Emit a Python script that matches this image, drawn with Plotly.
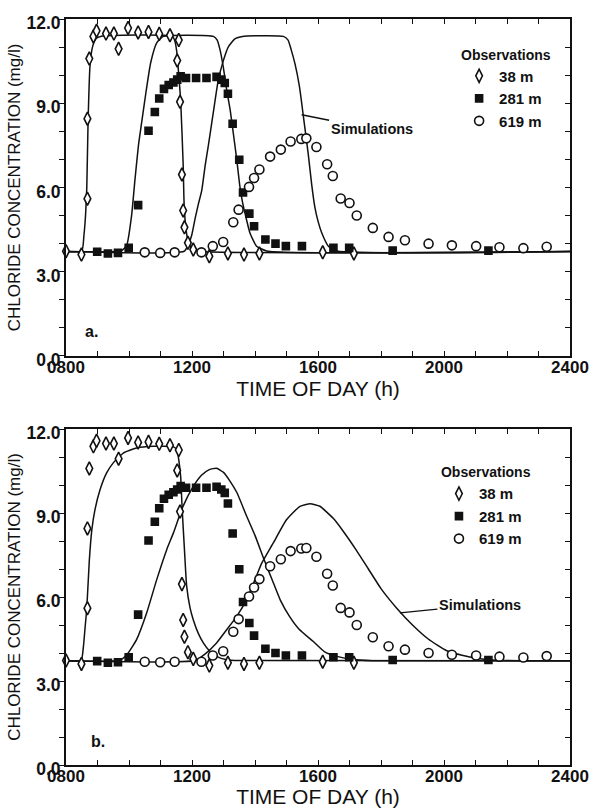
import plotly.graph_objects as go

# ---------------- data ----------------
# observation times (decimal hours) and chloride concentrations (mg/l)
obs38_t = [8.00, 8.49, 8.68, 8.68, 8.74, 8.87, 8.97, 9.27, 9.52, 9.67, 9.97, 10.29, 10.62, 10.96,
           11.30, 11.53, 11.58, 11.62, 11.68, 11.72, 11.76, 11.87, 12.04, 12.55, 13.14, 13.65,
           14.14, 16.15, 17.14]
obs38_c = [3.73, 3.61, 5.60, 8.45, 10.59, 11.38, 11.58, 11.48, 11.48, 10.94, 11.68, 11.52, 11.54,
           11.47, 11.42, 10.52, 11.25, 9.05, 6.46, 5.18, 4.58, 4.03, 3.79, 3.55, 3.65, 3.61,
           3.65, 3.69, 3.65]

obs281_t = [8.99, 9.33, 9.65, 9.99, 10.29, 10.62, 10.82, 10.96, 11.11, 11.26, 11.41, 11.53, 11.64,
            11.81, 12.13, 12.46, 12.78, 12.93, 13.04, 13.14, 13.29, 13.50, 13.62, 13.82, 13.97,
            14.33, 14.65, 14.98, 15.49, 16.49, 16.99, 18.37, 21.41]
obs281_c = [3.71, 3.65, 3.67, 3.85, 5.37, 8.02, 8.69, 9.17, 9.51, 9.65, 9.74, 9.84, 9.96,
            9.90, 9.90, 9.90, 9.94, 9.84, 9.72, 9.34, 8.27, 6.99, 5.82, 5.07, 4.62,
            4.15, 4.00, 3.91, 3.91, 3.85, 3.85, 3.75, 3.75]

obs619_t = [10.50, 10.99, 11.45, 12.30, 12.66, 12.99, 13.31, 13.48, 13.81, 13.97, 14.14, 14.48,
            14.82, 15.13, 15.47, 15.63, 15.95, 16.29, 16.47, 16.72, 17.00, 17.23, 17.74, 18.24,
            18.76, 19.51, 20.25, 21.02, 21.76, 22.52, 23.26]
obs619_c = [3.69, 3.67, 3.69, 3.69, 3.91, 4.06, 4.76, 5.21, 6.02, 6.34, 6.64, 7.10,
            7.35, 7.64, 7.73, 7.75, 7.44, 6.83, 6.41, 5.61, 5.45, 5.00, 4.56, 4.24,
            4.12, 4.00, 3.94, 3.91, 3.87, 3.84, 3.89]

# simulations, panel a
sima38_t = [8.0, 8.50, 8.57, 8.62, 8.66, 8.70, 8.76, 8.84, 8.95, 9.10, 11.38, 11.46, 11.52, 11.58,
            11.64, 11.72, 11.75, 11.81, 11.90, 12.00, 12.20, 24.0]
sima38_c = [3.72, 3.74, 4.30, 5.00, 6.00, 8.30, 10.30, 11.00, 11.30, 11.38, 11.38, 11.20, 10.80,
            10.00, 9.10, 6.80, 5.40, 4.50, 4.00, 3.82, 3.73, 3.72]

sima281_t = [8.0, 9.70, 9.80, 9.93, 10.08, 10.19, 10.30, 10.40, 10.54, 10.69, 10.88, 11.09, 12.68,
             12.80, 12.89, 12.99, 13.10, 13.21, 13.31, 13.42, 13.52, 13.60, 13.70, 13.84, 14.05,
             14.37, 24.0]
sima281_c = [3.72, 3.73, 3.78, 3.95, 4.98, 6.28, 7.50, 8.30, 9.40, 10.45, 11.15, 11.38, 11.38,
             11.25, 10.90, 10.31, 9.48, 8.77, 7.94, 7.00, 6.04, 5.50, 5.00, 4.38, 3.91,
             3.74, 3.72]

sima619_t = [8.0, 11.75, 11.88, 11.99, 12.10, 12.20, 12.31, 12.42, 12.52, 12.68, 12.83, 12.99,
             13.15, 13.37, 13.60, 14.90, 15.05, 15.15, 15.27, 15.41, 15.54, 15.69, 15.80, 15.90,
             16.00, 16.12, 16.33, 16.60, 24.0]
sima619_c = [3.72, 3.73, 3.95, 4.30, 4.90, 5.40, 5.90, 6.80, 7.50, 8.70, 9.80, 10.50,
             11.00, 11.30, 11.38, 11.38, 11.25, 10.90, 10.40, 9.60, 8.50, 7.20, 6.10, 5.30,
             4.80, 4.38, 3.91, 3.74, 3.72]

# simulations, panel b
simb38_t = [8.0, 8.48, 8.55, 8.60, 8.66, 8.74, 8.82, 8.92, 9.08, 9.29, 9.50, 9.82, 10.24, 10.77,
            11.41, 11.52, 11.58, 11.64, 11.69, 11.76, 11.83, 11.94, 12.04, 12.20, 12.36, 12.55,
            12.78, 13.10, 13.50, 24.0]
simb38_c = [3.72, 3.74, 4.20, 4.83, 5.60, 7.30, 8.40, 9.12, 9.83, 10.43, 10.79, 11.14, 11.32, 11.38,
            11.36, 11.25, 10.90, 10.30, 9.10, 7.70, 6.40, 5.60, 5.19, 4.70, 4.36, 4.08,
            3.88, 3.76, 3.73, 3.72]

simb281_t = [8.0, 9.70, 9.93, 10.24, 10.56, 10.88, 11.20, 11.41, 11.70, 12.04, 12.30, 12.55, 12.78,
             13.00, 13.20, 13.42, 13.73, 14.00, 14.30, 14.55, 14.80, 15.10, 15.40, 15.86, 16.20,
             16.60, 17.20, 18.00, 24.0]
simb281_c = [3.72, 3.74, 3.94, 4.48, 5.43, 6.62, 7.70, 8.29, 9.20, 9.95, 10.35, 10.55, 10.60,
             10.45, 10.15, 9.74, 8.90, 8.20, 7.30, 6.60, 5.90, 5.30, 4.85, 4.40, 4.05,
             3.88, 3.76, 3.72, 3.72]

simb619_t = [8.0, 12.10, 12.40, 12.78, 13.10, 13.42, 13.73, 14.00, 14.21, 14.58, 15.00, 15.43,
             15.75, 16.06, 16.49, 16.80, 17.23, 17.60, 18.00, 18.50, 19.00, 19.50, 20.09, 20.82,
             21.36, 22.00, 24.0]
simb619_c = [3.72, 3.73, 3.95, 4.36, 4.83, 5.31, 5.90, 6.62, 7.20, 7.93, 8.76, 9.24,
             9.33, 9.24, 8.80, 8.35, 7.65, 7.00, 6.30, 5.60, 5.00, 4.50, 4.08, 3.86,
             3.77, 3.73, 3.72]

x_ticks = list(range(8, 25))
x_labels = {8: "0800", 12: "1200", 16: "1600", 20: "2000", 24: "2400"}
y_ticks = list(range(0, 13))
y_labels = {0: "0.0", 3: "3.0", 6: "6.0", 9: "9.0", 12: "12.0"}

series_names = ["38 m", "281 m", "619 m"]

# ---------------- figure ----------------
FONT = "Liberation Sans, Arial, Helvetica, sans-serif"
BLACK = "#111111"

fig = go.Figure()

sims = {
    ("x", "y"): [(sima38_t, sima38_c), (sima281_t, sima281_c), (sima619_t, sima619_c)],
    ("x2", "y2"): [(simb38_t, simb38_c), (simb281_t, simb281_c), (simb619_t, simb619_c)],
}
for (xa, ya), curves in sims.items():
    for t, c in curves:
        fig.add_trace(go.Scatter(x=t, y=c, mode="lines", xaxis=xa, yaxis=ya,
                                 line=dict(color=BLACK, width=1.5, shape="spline", smoothing=0.5),
                                 showlegend=False, hoverinfo="skip"))

obs = [(obs38_t, obs38_c, "diamond-tall", "white", 9.5),
       (obs281_t, obs281_c, "square", BLACK, 7),
       (obs619_t, obs619_c, "circle", "white", 9)]
for xa, ya, leg in [("x", "y3", "legend"), ("x2", "y4", "legend2")]:
    for (t, c, sym, fill, size), name in zip(obs, series_names):
        fig.add_trace(go.Scatter(x=t, y=c, mode="markers", xaxis=xa, yaxis=ya, name=name,
                                 legend=leg, cliponaxis=False,
                                 marker=dict(symbol=sym, color=fill, size=size,
                                             line=dict(color=BLACK, width=1.6))))

xtickfont = dict(family=FONT, size=17, color=BLACK, weight="bold")
ytickfont = dict(family=FONT, size=17.5, color=BLACK, weight="bold")
xtitlefont = dict(family=FONT, size=21, color=BLACK)
ytitlefont = dict(family=FONT, size=17, color=BLACK)


def xaxis(anchor):
    return dict(range=[8, 24], anchor=anchor, domain=[0, 1],
                tickmode="array", tickvals=x_ticks,
                ticktext=[x_labels.get(v, "") for v in x_ticks],
                ticks="inside", ticklen=5, tickwidth=1.3, tickcolor=BLACK,
                ticklabelstandoff=-5,
                showline=True, linewidth=1.8, linecolor=BLACK, mirror="ticks",
                showgrid=False, zeroline=False, tickfont=xtickfont,
                title=dict(text="TIME OF DAY (h)", font=xtitlefont, standoff=5),
                automargin=False)


def yaxis(anchor, domain):
    return dict(range=[0, 12], anchor=anchor, domain=domain,
                tickmode="array", tickvals=y_ticks,
                ticktext=[y_labels.get(v, "") for v in y_ticks],
                ticks="outside", ticklen=5, tickwidth=1.3, tickcolor=BLACK,
                ticklabelstandoff=-5, ticklabelshift=4,
                showline=True, linewidth=1.8, linecolor=BLACK, mirror=True,
                showgrid=False, zeroline=False, tickfont=ytickfont,
                title=dict(text="CHLORIDE CONCENTRATION (mg/l)", font=ytitlefont, standoff=2),
                automargin=False)


def yright(overlay, anchor):
    return dict(range=[0, 12], overlaying=overlay, anchor=anchor, side="right",
                tickmode="array", tickvals=y_ticks, showticklabels=False,
                ticks="inside", ticklen=5, tickwidth=1.3, tickcolor=BLACK,
                showline=False, showgrid=False, zeroline=False)


dom_a = [0.5483, 1.0]
dom_b = [0.0, 0.4504]

legend_common = dict(xanchor="left", yanchor="top", bgcolor="rgba(0,0,0,0)",
                     font=dict(family=FONT, size=15, color=BLACK, weight="bold"),
                     title=dict(text="Observations",
                                font=dict(family=FONT, size=14, color=BLACK, weight="bold")),
                     itemsizing="trace", tracegroupgap=0, itemclick=False)

fig.update_layout(
    width=593, height=808,
    margin=dict(l=66, r=23, t=19, b=43),
    paper_bgcolor="white", plot_bgcolor="white",
    font=dict(family=FONT, color=BLACK),
    xaxis=xaxis("y"),
    yaxis=yaxis("x", dom_a),
    yaxis3=yright("y", "x"),
    xaxis2=xaxis("y2"),
    yaxis2=yaxis("x2", dom_b),
    yaxis4=yright("y2", "x2"),
    legend=dict(x=0.78, y=0.97, **legend_common),
    legend2=dict(x=0.74, y=0.41, **legend_common),
    annotations=[
        dict(text="a.", x=8.82, y=0.86, xref="x", yref="y", showarrow=False,
             font=dict(family=FONT, size=16, color=BLACK, weight="bold")),
        dict(text="b.", x=9.0, y=0.83, xref="x2", yref="y2", showarrow=False,
             font=dict(family=FONT, size=16, color=BLACK, weight="bold")),
        dict(text="Simulations", x=15.48, y=8.59, xref="x", yref="y",
             showarrow=True, arrowhead=0, arrowwidth=1.3, arrowcolor=BLACK,
             ax=70, ay=14, font=dict(family=FONT, size=14.5, color=BLACK, weight="bold")),
        dict(text="Simulations", x=18.6, y=5.43, xref="x2", yref="y2",
             showarrow=True, arrowhead=0, arrowwidth=1.3, arrowcolor=BLACK,
             ax=80, ay=-8, font=dict(family=FONT, size=14.5, color=BLACK, weight="bold")),
    ],
)

fig.write_html("out.html", config={"displayModeBar": False},
               post_script="document.body.style.margin='0';")
